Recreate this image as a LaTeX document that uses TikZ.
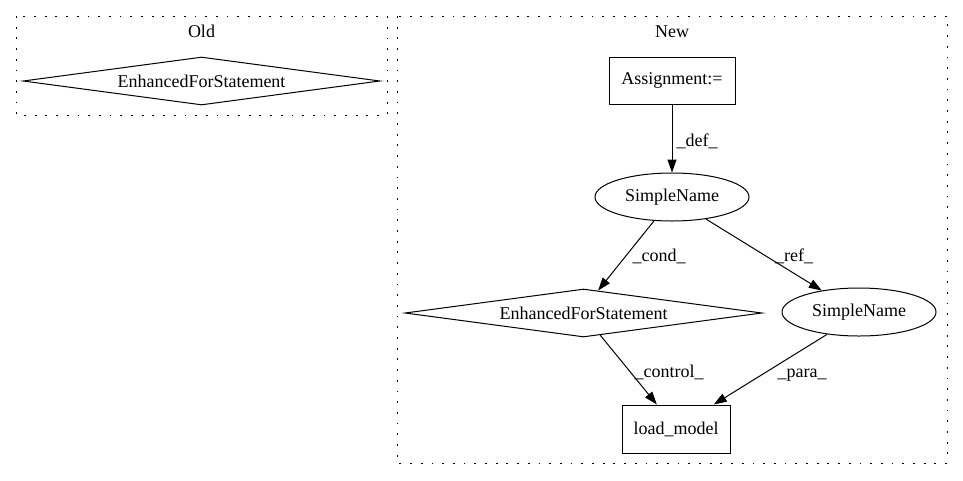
\documentclass[tikz,border=0pt]{standalone}
\usepackage{fontspec}
\setmainfont{Liberation Serif}
\usetikzlibrary{shapes.geometric,arrows.meta}
\begin{document}
\begin{tikzpicture}[x=1pt,y=-1pt,
  every node/.style={font=\fontsize{18}{21}\selectfont},
  cluster/.style={draw, line width=1pt, dash pattern=on 1.8pt off 8.9pt},
  box/.style={draw, line width=1pt, rectangle, inner sep=0pt},
  ell/.style={draw, line width=1pt, ellipse, inner sep=0pt, minimum width=154pt, minimum height=48pt},
  dia/.style={draw, line width=1pt, diamond, inner sep=0pt, aspect=7.4, minimum width=357pt, minimum height=48pt},
  conn/.style={draw, line width=1pt, -{Triangle[length=13pt,width=9pt]}},
  elabel/.style={anchor=base, inner sep=0pt}]
\useasboundingbox (0,0) rectangle (963,480);
% clusters
\draw[cluster] (16,16) rectangle (387,115);
\draw[cluster] (397,16) rectangle (947,463);
\node[elabel] (oldlbl) at (201.5,37) {Old};
\node[elabel] (newlbl) at (672,37) {New};
% old
\node[dia] (oefs) at (201.5,81) {EnhancedForStatement};
% new
\node[box, minimum width=126pt, minimum height=47pt] (asg) at (672,80.5) {Assignment:=};
\node[ell] (sn1) at (672,197) {SimpleName};
\node[dia] (efs) at (583.5,313) {EnhancedForStatement};
\node[ell] (sn2) at (859,312) {SimpleName};
\node[box, minimum width=108pt, minimum height=48pt] (lm) at (676,429) {load\_model};
% edges
\draw[conn] (asg) -- (sn1);
\draw[conn] (sn1.233) -- (efs.57);
\draw[conn] (sn1.327) -- (sn2.150);
\draw[conn] (efs.307) -- (lm.128);
\draw[conn] (sn2.215) -- (lm.33);
% labels
\node[elabel] (ldef) at (697,146) {\_def\_};
\node[elabel] (lcond) at (659,261) {\_cond\_};
\node[elabel] (lref) at (794,261) {\_ref\_};
\node[elabel] (lcontrol) at (669,377) {\_control\_};
\node[elabel] (lpara) at (802,377) {\_para\_};
\end{tikzpicture}
\end{document}
